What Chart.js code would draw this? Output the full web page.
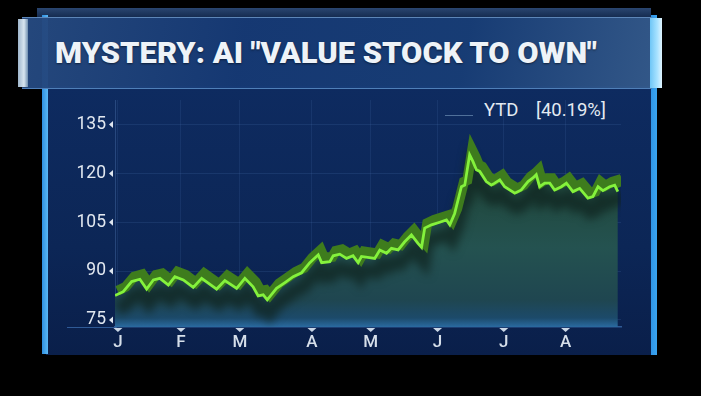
<!DOCTYPE html>
<html>
<head>
<meta charset="utf-8">
<script src="https://cdn.jsdelivr.net/npm/chart.js@4/dist/chart.umd.min.js"></script>
<style>
  html, body { margin: 0; padding: 0; background: #000; }
  #wrap { position: relative; width: 701px; height: 396px; overflow: hidden; background: #000; }
  #topstrip { position: absolute; left: 37px; top: 8px; width: 614px; height: 10px; background: linear-gradient(#2a4670, #13294d); }
  #panel { position: absolute; left: 46px; top: 86px; width: 607px; height: 269px;
    background: linear-gradient(#0e2b60, #0c2656 60%, #0a1f4a); box-shadow: 0 2px 4px #000; }
  #lstrip { position: absolute; left: 42px; top: 15px; width: 6px; height: 339px; background: linear-gradient(90deg, #2f8fe0, #5ab8f5); }
  #rstrip { position: absolute; left: 651px; top: 15px; width: 6px; height: 340px; background: linear-gradient(90deg, #2f95e6, #3aa4f0); }
  #titlebar { position: absolute; left: 22px; top: 17px; width: 630px; height: 70px;
    background: linear-gradient(100deg, rgba(38,74,128,0.97) 0%, rgba(22,58,118,0.97) 35%, rgba(24,62,120,0.97) 70%, rgba(52,90,140,0.97) 100%);
    border-top: 1px solid #5d86b8; border-bottom: 1px solid #4f7fb8; }
  #lcap { position: absolute; left: 18px; top: 19px; width: 10px; height: 68px; background: linear-gradient(90deg, #9fb6cc, #d8e6f0 60%, #6f8fb0); }
  #rcap { position: absolute; left: 650px; top: 18px; width: 12px; height: 70px; background: linear-gradient(90deg, #6fc6f6, #a8e2ff 60%, #e0f4ff); }
  #title { position: absolute; left: 55px; top: 36px; white-space: nowrap; transform-origin: 0 0;
    font-family: Roboto, "Liberation Sans", sans-serif; font-weight: 900; font-size: 29px; line-height: 34px;
    color: #eef3f8; text-shadow: 0 1px 2px rgba(0,0,0,0.5); }
  #legend { position: absolute; left: 484px; top: 99px; font-family: Roboto, "Liberation Sans", sans-serif;
    font-size: 18.5px; color: #e4eaf2; white-space: nowrap; }
  #legend span { position: absolute; left: 52px; top: 0; }
  #legline { position: absolute; left: 445px; top: 115px; width: 28px; height: 1px; background: #50709a; }
  #axisext { position: absolute; left: 67px; top: 327px; width: 50px; height: 1px; background: #2f5a96; }
  canvas { position: absolute; left: 0; top: 0; }
</style>
</head>
<body>
<div id="wrap">
  <div id="topstrip"></div>
  <div id="panel"></div>
  <div id="lstrip"></div>
  <div id="rstrip"></div>
  <div id="titlebar"></div>
  <div id="lcap"></div>
  <div id="rcap"></div>
  <div id="title">MYSTERY: AI "VALUE STOCK TO OWN"</div>
  <div id="legline"></div>
  <div id="legend">YTD<span>[40.19%]</span></div>
  <div id="axisext"></div>
  <canvas id="chart" width="701" height="396"></canvas>
</div>
<script>
// trading days since year start and closing prices
const days = [0, 3.9, 7.9, 11.8, 15.0, 18.2, 21.3, 25.3, 28.4, 32.4,
  37.1, 41.1, 48.2, 52.1, 57.7, 61.6, 65.5, 67.9, 70.3, 72.2,
  76.6, 80.6, 84.5, 88.5, 92.4, 96.4, 98.0, 101.9, 103.5, 106.6,
  109.8, 112.9, 115.3, 116.9, 123.2, 125.6, 128.8, 131.1, 134.3, 137.4,
  140.6, 143.7, 145.4, 146.9, 150.1, 154.0, 157.2, 158.8, 161.1, 164.3,
  165.9, 168.2, 169.8, 171.4, 173.0, 176.1, 178.5, 180.1, 182.5, 184.8,
  189.6, 192.7, 195.9, 198.2, 199.8, 201.4, 203.8, 206.2, 208.5, 211.7,
  214.1, 217.2, 220.4, 224.3, 226.7, 229.1, 231.4, 234.6, 237.0, 238.5];
const prices = [82.5, 83.7, 86.8, 87.5, 84.5, 87.3, 87.8, 85.7, 88.3, 87.3,
  85.0, 87.8, 84.5, 87.1, 84.7, 87.8, 85.2, 82.4, 82.7, 81.2,
  84.7, 86.5, 88.3, 89.5, 92.6, 95.0, 92.6, 92.9, 94.7, 95.2,
  93.9, 94.7, 92.6, 94.5, 93.9, 96.5, 95.5, 97.0, 96.5, 99.0,
  101.1, 98.5, 97.3, 103.2, 104.2, 105.0, 105.7, 104.2, 107.7, 115.9,
  116.4, 125.7, 123.6, 121.1, 120.6, 117.5, 116.4, 117.0, 118.0, 115.9,
  113.9, 114.9, 117.5, 118.6, 119.6, 115.9, 117.0, 117.0, 114.9, 115.9,
  117.0, 114.4, 115.4, 112.4, 112.9, 115.9, 114.7, 115.9, 116.4, 114.4];

const monthDays = [1.4, 31.3, 59.2, 93.4, 121.3, 153, 184.4, 213.7];
const monthLabels = ["J", "F", "M", "A", "M", "J", "J", "A"];
const yTicks = [75, 90, 105, 120, 135];

// fit the title to the width it has in the broadcast graphic
const title = document.getElementById("title");
title.style.transform = "scaleX(" + (542 / title.offsetWidth) + ")";

const series = days.map((d, i) => ({ x: d, y: prices[i] }));
// extruded "3D" ribbon behind the line, and a soft shadow under it
const ribbon = days.map((d, i) => ({ x: d + 1.2, y: prices[i] + 1.5 }));
const shadow = days.map((d, i) => ({ x: d + 1, y: prices[i] - 4.2 }));

const decor = {
  id: "decor",
  beforeDatasetDraw(chart, args) {
    if (args.meta.label === "shadow") {
      chart.ctx.save();
      chart.ctx.filter = "blur(4px)";
    }
  },
  afterDatasetDraw(chart, args) {
    if (args.meta.label === "shadow") chart.ctx.restore();
  },
  afterDraw(chart) {
    const { ctx, scales } = chart;
    ctx.save();
    ctx.fillStyle = "#dfe6ef";
    yTicks.forEach((v) => {
      const y = scales.y.getPixelForValue(v);
      ctx.beginPath();
      ctx.moveTo(109, y);
      ctx.lineTo(113, y - 3.5);
      ctx.lineTo(113, y + 3.5);
      ctx.fill();
    });
    ctx.fillStyle = "#c9d6e6";
    monthDays.forEach((d) => {
      const x = scales.x.getPixelForValue(d);
      ctx.beginPath();
      ctx.moveTo(x - 4.5, 328);
      ctx.lineTo(x + 4.5, 328);
      ctx.lineTo(x, 332);
      ctx.fill();
    });
    ctx.restore();
  },
};

const canvas = document.getElementById("chart");
Chart.defaults.font.family = "Roboto, 'Liberation Sans', sans-serif";

const chart = new Chart(canvas, {
  type: "line",
  data: {
    datasets: [
      {
        label: "fill",
        data: series,
        order: 4,
        borderWidth: 0,
        borderColor: "rgba(0,0,0,0)",
        fill: "start",
        backgroundColor: (c) => {
          const area = c.chart.chartArea;
          if (!area) return "#1f4a48";
          const g = c.chart.ctx.createLinearGradient(0, area.top, 0, area.bottom);
          g.addColorStop(0, "#1d4038");
          g.addColorStop(0.4, "#21493f");
          g.addColorStop(0.65, "#245250");
          g.addColorStop(0.88, "#1f4650");
          g.addColorStop(0.96, "#1c4a6a");
          g.addColorStop(1, "#2a6aa0");
          return g;
        },
      },
      {
        label: "shadow",
        data: shadow,
        order: 3,
        borderWidth: 14,
        borderColor: "rgba(14,34,30,0.7)",
        fill: false,
      },
      {
        label: "ribbon",
        data: ribbon,
        order: 2,
        borderWidth: 10,
        borderColor: "#3e7c1d",
        borderJoinStyle: "miter",
        fill: false,
      },
      {
        label: "YTD",
        data: series,
        order: 1,
        borderWidth: 2.8,
        borderColor: "#84f23c",
        fill: false,
      },
    ],
  },
  options: {
    responsive: false,
    animation: false,
    events: [],
    layout: { padding: { left: 0, right: 80, top: 100, bottom: 0 } },
    elements: {
      point: { radius: 0 },
      line: { tension: 0 },
    },
    plugins: {
      legend: { display: false },
      tooltip: { enabled: false },
    },
    scales: {
      x: {
        type: "linear",
        min: 0,
        max: 240,
        afterFit: (s) => { s.height = 69; },
        afterBuildTicks: (s) => { s.ticks = monthDays.map((v) => ({ value: v })); },
        ticks: {
          autoSkip: false,
          maxRotation: 0,
          padding: 6,
          color: "#d6dfea",
          font: { size: 17, weight: "500" },
          callback: (v, i) => monthLabels[i],
        },
        grid: { color: "rgba(70,110,170,0.18)", drawTicks: false },
        border: { color: "#2f5a96", width: 1.5 },
      },
      y: {
        min: 72.85,
        max: 142.52,
        afterFit: (s) => { s.width = 115; },
        afterBuildTicks: (s) => { s.ticks = yTicks.map((v) => ({ value: v })); },
        ticks: {
          padding: 9,
          color: "#e2e8f0",
          font: { size: 17.5 },
        },
        grid: { color: "rgba(70,110,170,0.22)", drawTicks: false },
        border: { color: "rgba(90,130,190,0.35)" },
      },
    },
  },
  plugins: [decor],
});
</script>
</body>
</html>
